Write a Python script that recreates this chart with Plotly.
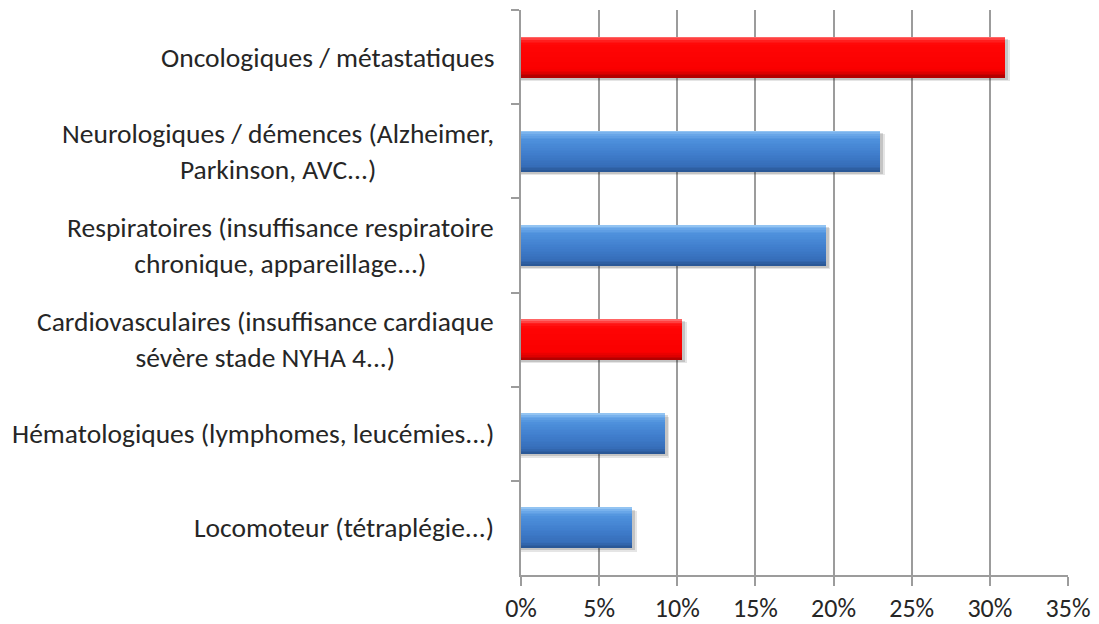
import plotly.graph_objects as go

# Share of patients by pathology group
categories = [
    "Oncologiques / métastatiques",
    "Neurologiques / démences (Alzheimer,<br>Parkinson, AVC...)",
    "Respiratoires (insuffisance respiratoire<br>chronique, appareillage...)",
    "Cardiovasculaires (insuffisance cardiaque<br>sévère stade NYHA 4...)",
    "Hématologiques (lymphomes, leucémies...)",
    "Locomoteur (tétraplégie...)",
]
values = [0.31, 0.23, 0.195, 0.103, 0.092, 0.071]
highlight = [True, False, False, True, False, False]  # red bars
tick_values = [0, 0.05, 0.10, 0.15, 0.20, 0.25, 0.30, 0.35]

FONT = "Carlito, Calibri, Lato, sans-serif"
TEXT = "#262626"
AXIS = "#9C9C9C"
FS = 27.5
TICK_FS = 26
W = 0.435  # bar thickness in category units
STEPS = 24

pos = list(range(len(categories)))

# Colour stops down the thickness of a bar (fraction from top, rgb)
blue_stops = [(0.00, (160, 205, 245)), (0.08, (110, 170, 235)), (0.22, (78, 145, 220)),
              (0.55, (64, 126, 205)), (0.85, (54, 110, 185)), (1.00, (40, 84, 145))]
red_stops = [(0.00, (255, 120, 120)), (0.10, (255, 30, 30)), (0.20, (255, 5, 5)),
             (0.80, (250, 0, 0)), (0.90, (220, 0, 0)), (1.00, (170, 0, 0))]


def shade(stops, f):
    for (a, ca), (b, cb) in zip(stops, stops[1:]):
        if a <= f <= b:
            t = (f - a) / (b - a) if b > a else 0
            c = [round(ca[i] + (cb[i] - ca[i]) * t) for i in range(3)]
            return f"rgb({c[0]},{c[1]},{c[2]})"
    c = stops[-1][1]
    return f"rgb({c[0]},{c[1]},{c[2]})"


fig = go.Figure()

# soft drop shadow behind every bar
for dx, dy, alpha in [(0.0030, 0.035, 0.10), (0.0018, 0.022, 0.14)]:
    fig.add_trace(go.Bar(
        x=[v + dx for v in values], y=pos, orientation="h",
        width=W, offset=-W / 2 + dy,
        marker=dict(color=f"rgba(0,0,0,{alpha})", line=dict(width=0)),
        hoverinfo="skip", showlegend=False,
    ))

# each layer runs from its start down to the bottom edge, so no seams show
for is_red, stops in [(False, blue_stops), (True, red_stops)]:
    xs = [v if h == is_red else None for v, h in zip(values, highlight)]
    for i in range(STEPS):
        f0 = i / STEPS
        fmid = (i + 0.5) / STEPS
        fig.add_trace(go.Bar(
            x=xs, y=pos, orientation="h",
            width=W * (1 - f0), offset=-W / 2 + W * f0,
            marker=dict(color=shade(stops, fmid), line=dict(width=0)),
            hoverinfo="skip", showlegend=False,
        ))

# category labels, centred line by line, right-aligned against the axis
for p, label in zip(pos, categories):
    fig.add_annotation(
        x=0, xref="paper", y=p, yref="y",
        xanchor="right", yanchor="middle", xshift=-25,
        text=label, align="center", showarrow=False,
        font=dict(family=FONT, size=FS, color=TEXT),
    )

fig.update_layout(
    width=1099, height=624,
    margin=dict(l=521, r=31, t=10, b=49, autoexpand=False),
    paper_bgcolor="white", plot_bgcolor="white",
    barmode="overlay", bargap=0,
    showlegend=False,
    font=dict(family=FONT, size=FS, color=TEXT),
)
fig.update_xaxes(
    range=[0, 0.35], tickvals=tick_values, tickformat=".0%",
    showgrid=True, gridcolor=AXIS, gridwidth=1.5,
    zeroline=False, showline=True, linecolor=AXIS, linewidth=1.5,
    ticks="outside", ticklen=9, tickcolor=AXIS, tickwidth=1.5,
    tickfont=dict(family=FONT, size=TICK_FS, color=TEXT),
    automargin=False, fixedrange=True,
)
fig.update_yaxes(
    range=[5.5, -0.5], tickvals=[-0.5, 0.5, 1.5, 2.5, 3.5, 4.5],
    showticklabels=False, showgrid=False, zeroline=False,
    showline=True, linecolor=AXIS, linewidth=1.5,
    ticks="outside", ticklen=8, tickcolor=AXIS, tickwidth=1.5,
    automargin=False, fixedrange=True,
)

fig.write_html("out.html")
